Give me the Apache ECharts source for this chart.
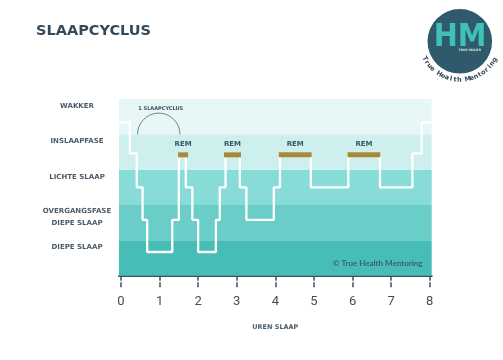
<!DOCTYPE html>
<html><head><meta charset="utf-8">
<script src="https://cdn.jsdelivr.net/npm/echarts@6/dist/echarts.min.js"></script>
<style>html,body{margin:0;padding:0;background:#fff}#c{width:503px;height:360px}</style>
</head><body><div id="c"></div>
<script>
// ---- data ----
const bandLabels = ['DIEPE SLAAP', 'OVERGANGSFASE\nDIEPE SLAAP', 'LICHTE SLAAP', 'INSLAAPFASE', 'WAKKER'];
const xTicks = [0, 1, 2, 3, 4, 5, 6, 7, 8];
const hypnoTimes  = [-0.05, 0.23, 0.41, 0.56, 0.68, 1.33, 1.50, 1.68, 1.85, 2.00, 2.46, 2.56, 2.71, 3.08, 3.25, 3.96, 4.12, 4.92, 5.89, 6.71, 7.55, 7.79, 8.05];
const hypnoStages = ['W', 'N1', 'N2', 'OG', 'N3', 'OG', 'REM', 'N2', 'OG', 'N3', 'OG', 'N2', 'REM', 'N2', 'OG', 'N2', 'REM', 'N2', 'REM', 'N2', 'N1', 'W', 'W'];
const stageLevel = { W: 4.34, N1: 3.46, REM: 3.42, N2: 2.5, OG: 1.58, N3: 0.67 };
const remStart = [1.48, 2.67, 4.09, 5.87];
const remEnd   = [1.74, 3.11, 4.94, 6.72];
const cycleStart = 0.43, cycleEnd = 1.53, cycleBase = 4;

// ---- styles ----
const bandColors = ['#46bdb6', '#6acdc7', '#88dcd7', '#cdefee', '#e7f6f6'];
const ink = '#3e5060';
const F = 'DejaVu Sans';

const chart = echarts.init(document.getElementById('c'), null, { renderer: 'canvas' });

const logoText = 'True Health Mentoring';
const logoChars = [];
{
  const cx = 460, cy = 40, r = 40;
  const a0 = 152, a1 = 30;
  const n = logoText.length;
  for (let i = 0; i < n; i++) {
    const a = (a0 + (a1 - a0) * i / (n - 1)) * Math.PI / 180;
    logoChars.push({
      type: 'text', x: cx + r * Math.cos(a), y: cy + r * Math.sin(a),
      rotation: Math.PI / 2 - a,
      style: { text: logoText[i], fill: '#34495a', font: 'bold 6.5px "DejaVu Sans"', align: 'center', verticalAlign: 'middle' }
    });
  }
}

chart.setOption({
  animation: false,
  title: {
    text: 'SLAAPCYCLUS', left: 36, top: 24, padding: 0,
    textStyle: { fontFamily: F, fontSize: 14.5, fontWeight: 'bold', color: '#34495a' }
  },
  grid: { left: 119, right: 71.3, top: 99, bottom: 84.3 },
  xAxis: [{
    type: 'value', min: -0.05, max: 8.05, offset: 11.6,
    axisLine: { show: true, lineStyle: { color: ink, width: 2 } },
    axisTick: { show: true, customValues: xTicks, length: 5, lineStyle: { color: ink, width: 1.5 } },
    axisLabel: { customValues: xTicks, margin: 8, fontFamily: 'Roboto', fontSize: 13, color: ink },
    splitLine: { show: false },
    name: 'UREN SLAAP', nameLocation: 'middle', nameGap: 37,
    nameTextStyle: { fontFamily: F, fontSize: 6.5, fontWeight: 'bold', color: '#4d5d6b' }
  }, {
    type: 'value', min: -0.05, max: 8.05, offset: 11.6, position: 'bottom',
    axisLine: { show: false },
    axisTick: { show: true, inside: true, customValues: xTicks, length: 5, lineStyle: { color: ink, width: 1.5 } },
    axisLabel: { show: false }, splitLine: { show: false }
  }],
  yAxis: {
    type: 'value', min: 0, max: 5,
    axisLine: { show: false }, axisTick: { show: false }, splitLine: { show: false },
    axisLabel: {
      customValues: bandLabels.map((l, i) => i + (l.includes('\n') ? 0.66 : 0.8)),
      formatter: v => bandLabels[Math.floor(v)],
      align: 'center', margin: 42, fontFamily: F, fontSize: 7, fontWeight: 'bold',
      color: '#4d5b69', lineHeight: 11.5
    }
  },
  series: [{
    type: 'custom', name: 'bands', z: 1, silent: true,
    data: bandLabels.map((l, i) => [0, i]),
    encode: { x: 0, y: 1 },
    renderItem: (params, api) => {
      const i = api.value(1);
      const top = api.coord([0, i + 1])[1], bot = api.coord([0, i])[1];
      const cs = params.coordSys;
      return { type: 'rect', shape: { x: cs.x, y: top, width: cs.width, height: bot - top }, style: { fill: bandColors[i] } };
    }
  }, {
    type: 'line', name: 'slaap', z: 3, step: 'end', symbol: 'none',
    data: hypnoTimes.map((t, i) => [t, stageLevel[hypnoStages[i]]]),
    lineStyle: { color: '#ffffff', width: 2.3 }
  }, {
    type: 'custom', name: 'REM', z: 4, silent: true,
    data: remStart.map((s, i) => [s, remEnd[i], stageLevel.REM]),
    encode: { x: [0, 1], y: 2 },
    renderItem: (params, api) => {
      const p1 = api.coord([api.value(0), api.value(2)]);
      const p2 = api.coord([api.value(1), api.value(2)]);
      return { type: 'group', children: [
        { type: 'rect', shape: { x: p1[0], y: p1[1] - 2.5, width: p2[0] - p1[0], height: 5 }, style: { fill: '#a88a36' } },
        { type: 'text', x: (p1[0] + p2[0]) / 2, y: p1[1] - 11, style: { text: 'REM', fill: '#3b5566', font: 'bold 7px "DejaVu Sans"', align: 'center', verticalAlign: 'middle' } }
      ] };
    }
  }, {
    type: 'custom', name: 'cyclus', z: 4, silent: true,
    data: [[cycleStart, cycleEnd, cycleBase]],
    encode: { x: [0, 1], y: 2 },
    renderItem: (params, api) => {
      const p1 = api.coord([api.value(0), api.value(2)]);
      const p2 = api.coord([api.value(1), api.value(2)]);
      const cx = (p1[0] + p2[0]) / 2, r = (p2[0] - p1[0]) / 2;
      return { type: 'group', children: [
        { type: 'arc', shape: { cx: cx, cy: p1[1], r: r, startAngle: Math.PI, endAngle: 2 * Math.PI, clockwise: true }, style: { stroke: '#5b6670', lineWidth: 0.8, fill: null } },
        { type: 'text', x: cx + 2, y: p1[1] - r - 4, style: { text: '1 SLAAPCYCLUS', fill: '#3e4f5c', font: 'bold 5px "DejaVu Sans"', align: 'center', verticalAlign: 'middle' } }
      ] };
    }
  }],
  graphic: [
    { type: 'text', left: 333, top: 259, z: 10, style: { text: '\u00A9 True Health Mentoring', fill: '#3b6070', font: 'bold 8px "Lato"' } },
    { type: 'circle', shape: { cx: 459.8, cy: 41.3, r: 32.3 }, style: { fill: '#2e5a6c' } },
    { type: 'text', x: 460, y: 38, style: { text: 'HM', fill: '#3fc1b6', font: 'bold 32px "DejaVu Sans Condensed"', align: 'center', verticalAlign: 'middle' } },
    { type: 'text', x: 470, y: 50, style: { text: 'TRUE HEALTH', fill: '#cfe8e6', font: 'bold 3px "DejaVu Sans"', align: 'center', verticalAlign: 'middle' } },
    ...logoChars
  ]
});
</script>
</body></html>
